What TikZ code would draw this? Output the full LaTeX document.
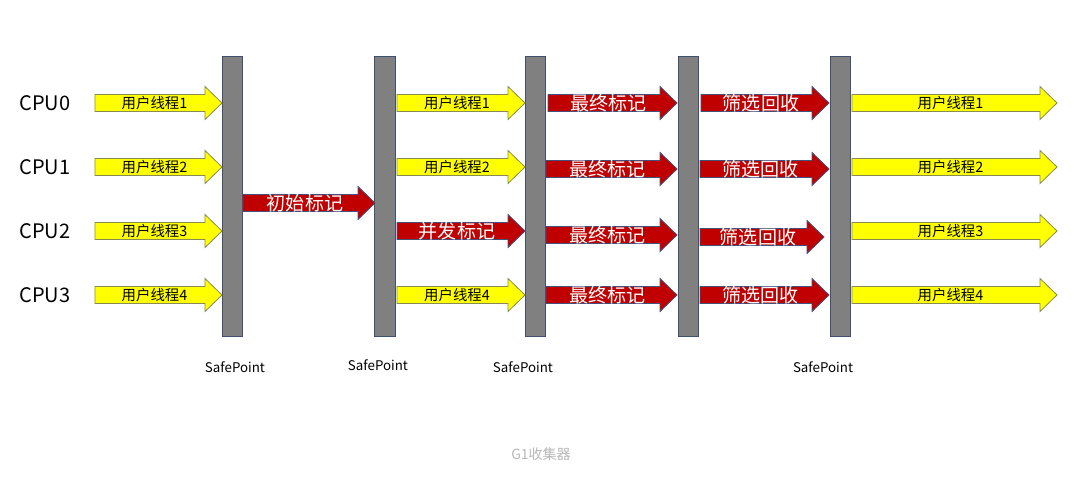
\documentclass[tikz,border=0pt]{standalone}
\usepackage{fontspec}
\setmainfont{Noto Sans CJK SC}
\definecolor{barfill}{HTML}{808080}
\definecolor{barline}{HTML}{3F5070}
\definecolor{yfill}{HTML}{FFFF00}
\definecolor{yline}{HTML}{8A8A55}
\definecolor{rfill}{HTML}{C00000}
\definecolor{rline}{HTML}{45507A}
\definecolor{captiongray}{HTML}{B8B8B8}
\tikzset{
  bar/.style={fill=barfill,draw=barline,line width=0.6pt},
  yarrow/.style={fill=yfill,draw=yline,line width=0.6pt},
  rarrow/.style={fill=rfill,draw=rline,line width=0.6pt},
  ylabel/.style={font=\fontsize{10.8}{11}\selectfont,text=black,inner sep=0pt},
  rlabel/.style={font=\fontsize{14.3}{15}\selectfont,text=white,inner sep=0pt},
  cpulabel/.style={font=\fontsize{15}{16}\selectfont,inner sep=0pt},
  splabel/.style={font=\fontsize{10}{11}\selectfont,inner sep=0pt},
}
% #1 style, #2 x1, #3 x2, #4 y, #5 name, #6 label style, #7 text
\newcommand{\myarrow}[7]{%
  \path[#1] (#2,#4-8.5) -- (#3-17,#4-8.5) -- (#3-17,#4-16.5) -- (#3,#4)
     -- (#3-17,#4+16.5) -- (#3-17,#4+8.5) -- (#2,#4+8.5) -- cycle;
  \node[#6] (#5) at ({(#2+#3)/2-4},#4) {#7};
}
\begin{document}
\begin{tikzpicture}[x=0.75pt,y=-0.75pt]
\path[use as bounding box,fill=white] (0,0) rectangle (1092,477);
% bars
\path[bar] (222,56) rectangle (242,336);
\path[bar] (374,56) rectangle (395,336);
\path[bar] (525,56) rectangle (545,336);
\path[bar] (678,56) rectangle (698,336);
\path[bar] (830,56) rectangle (850,336);
% CPU labels
\node[cpulabel] (c0) at (45,103) {CPU0};
\node[cpulabel] (c1) at (45,167) {CPU1};
\node[cpulabel] (c2) at (45,231) {CPU2};
\node[cpulabel] (c3) at (45,295) {CPU3};
% column 1
\myarrow{yarrow}{95}{222}{103}{a00}{ylabel}{用户线程1}
\myarrow{yarrow}{95}{222}{167}{a01}{ylabel}{用户线程2}
\myarrow{yarrow}{95}{222}{231}{a02}{ylabel}{用户线程3}
\myarrow{yarrow}{95}{222}{295}{a03}{ylabel}{用户线程4}
% initial mark
\myarrow{rarrow}{243}{375}{203}{init}{rlabel}{初始标记}
% column 3
\myarrow{yarrow}{397}{525}{103}{b0}{ylabel}{用户线程1}
\myarrow{yarrow}{397}{525}{167}{b1}{ylabel}{用户线程2}
\myarrow{rarrow}{397}{525}{231}{b2}{rlabel}{并发标记}
\myarrow{yarrow}{397}{525}{295}{b3}{ylabel}{用户线程4}
% final mark
\myarrow{rarrow}{548}{677}{103}{f0}{rlabel}{最终标记}
\myarrow{rarrow}{546}{677}{169}{f1}{rlabel}{最终标记}
\myarrow{rarrow}{546}{677}{235}{f2}{rlabel}{最终标记}
\myarrow{rarrow}{546}{677}{295}{f3}{rlabel}{最终标记}
% cleanup
\myarrow{rarrow}{701}{829}{103}{s0}{rlabel}{筛选回收}
\myarrow{rarrow}{700}{829}{169}{s1}{rlabel}{筛选回收}
\myarrow{rarrow}{700}{824}{237}{s2}{rlabel}{筛选回收}
\myarrow{rarrow}{700}{829}{295}{s3}{rlabel}{筛选回收}
% last column
\myarrow{yarrow}{852}{1057}{103}{e0}{ylabel}{用户线程1}
\myarrow{yarrow}{852}{1057}{167}{e1}{ylabel}{用户线程2}
\myarrow{yarrow}{852}{1057}{231}{e2}{ylabel}{用户线程3}
\myarrow{yarrow}{852}{1057}{295}{e3}{ylabel}{用户线程4}
% SafePoint labels
\node[splabel] (sp1) at (235,367) {SafePoint};
\node[splabel] (sp2) at (378,365) {SafePoint};
\node[splabel] (sp3) at (523,367) {SafePoint};
\node[splabel] (sp4) at (823,367) {SafePoint};
% caption
\node[font=\fontsize{10.5}{11}\selectfont,text=captiongray,inner sep=0pt] (cap) at (541,454) {G1收集器};
\end{tikzpicture}
\end{document}
